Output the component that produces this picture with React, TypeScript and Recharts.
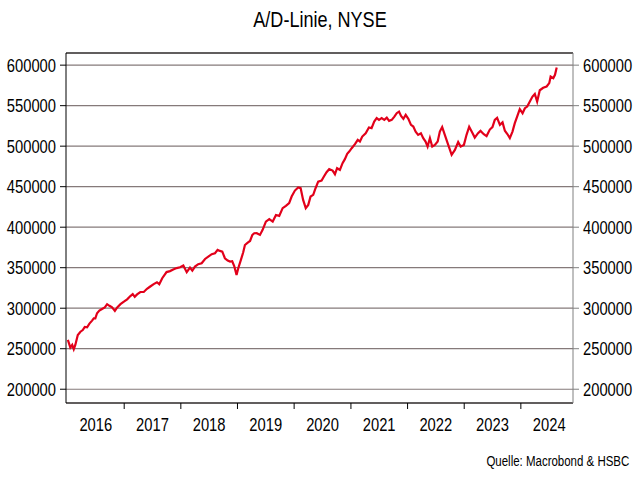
import { CartesianGrid, Line, LineChart, ReferenceLine, XAxis, YAxis } from "recharts";

// A/D line, NYSE (roughly every 2-3 weeks)
const dates = [
  "2016-01-04", "2016-01-20", "2016-02-01", "2016-02-11", "2016-02-21", "2016-03-08", "2016-03-25", "2016-04-09",
  "2016-04-22", "2016-05-07", "2016-05-22", "2016-06-08", "2016-06-19", "2016-06-29", "2016-07-10", "2016-07-25",
  "2016-08-11", "2016-08-29", "2016-09-13", "2016-09-28", "2016-10-15", "2016-11-02", "2016-11-17", "2016-12-08",
  "2016-12-30", "2017-01-20", "2017-02-10", "2017-02-25", "2017-03-10", "2017-03-25", "2017-04-15", "2017-05-07",
  "2017-05-28", "2017-06-18", "2017-07-10", "2017-07-31", "2017-08-15", "2017-09-03", "2017-10-01", "2017-10-23",
  "2017-11-13", "2017-12-05", "2017-12-27", "2018-01-17", "2018-02-08", "2018-03-01", "2018-03-16", "2018-04-02",
  "2018-04-23", "2018-05-15", "2018-06-06", "2018-06-27", "2018-07-19", "2018-08-09", "2018-08-26", "2018-09-10",
  "2018-09-25", "2018-10-12", "2018-10-30", "2018-11-14", "2018-11-28", "2018-12-11", "2018-12-26", "2019-01-06",
  "2019-01-23", "2019-02-07", "2019-02-18", "2019-03-08", "2019-03-23", "2019-04-07", "2019-04-19", "2019-05-05",
  "2019-05-26", "2019-06-12", "2019-07-03", "2019-07-25", "2019-08-16", "2019-09-06", "2019-09-27", "2019-10-19",
  "2019-11-09", "2019-11-30", "2019-12-16", "2020-01-06", "2020-01-27", "2020-02-12", "2020-02-28", "2020-03-16",
  "2020-04-01", "2020-04-16", "2020-05-03", "2020-05-18", "2020-06-04", "2020-06-26", "2020-07-11", "2020-07-28",
  "2020-08-14", "2020-09-05", "2020-09-20", "2020-10-04", "2020-10-22", "2020-11-08", "2020-11-23", "2020-12-08",
  "2020-12-21", "2021-01-06", "2021-01-27", "2021-02-14", "2021-02-28", "2021-03-15", "2021-04-06", "2021-04-27",
  "2021-05-14", "2021-05-31", "2021-06-16", "2021-07-01", "2021-07-18", "2021-08-04", "2021-08-20", "2021-09-04",
  "2021-09-21", "2021-10-08", "2021-10-23", "2021-11-07", "2021-11-20", "2021-12-05", "2021-12-20", "2022-01-06",
  "2022-01-23", "2022-02-07", "2022-02-22", "2022-03-10", "2022-03-28", "2022-04-12", "2022-04-27", "2022-05-10",
  "2022-05-25", "2022-06-09", "2022-06-26", "2022-07-14", "2022-07-28", "2022-08-12", "2022-08-29", "2022-09-20",
  "2022-10-12", "2022-11-02", "2022-11-23", "2022-12-09", "2022-12-30", "2023-01-16", "2023-02-02", "2023-02-24",
  "2023-03-10", "2023-03-31", "2023-04-16", "2023-05-07", "2023-05-25", "2023-06-15", "2023-07-02", "2023-07-17",
  "2023-08-01", "2023-08-19", "2023-09-05", "2023-09-20", "2023-10-06", "2023-10-22", "2023-11-08", "2023-11-23",
  "2023-12-08", "2023-12-25", "2024-01-12", "2024-01-27", "2024-02-11", "2024-02-28", "2024-03-16", "2024-03-31",
  "2024-04-15", "2024-05-02", "2024-05-24", "2024-06-15", "2024-07-02", "2024-07-11", "2024-07-28", "2024-08-08",
  "2024-08-19",
];

const adLine = [
  261000, 251400, 254700, 249400, 254700, 267000, 271000, 273000,
  277000, 276500, 281000, 284700, 287500, 287500, 293800, 297000,
  299000, 301000, 305000, 303000, 301000, 296700, 301000, 305000,
  308000, 311000, 315000, 317500, 314000, 317000, 320000, 320000,
  324000, 326800, 329800, 332000, 329500, 337000, 344600, 345800,
  347800, 349500, 350600, 352600, 344400, 350100, 346400, 351400,
  354300, 355500, 360800, 363700, 366700, 367900, 372000, 370700,
  369900, 361700, 358800, 357500, 358000, 352000, 341000, 349400,
  359600, 369000, 378000, 381000, 383000, 390500, 392500, 392600,
  390500, 396700, 406900, 409900, 406900, 415000, 414000, 423500,
  426300, 429600, 437800, 445200, 449000, 448100, 433700, 423500,
  427500, 437800, 439900, 448100, 456300, 457500, 462500, 467900,
  471600, 469900, 465400, 472800, 470700, 479000, 484000, 490500,
  493300, 497500, 502500, 507800, 505700, 511900, 516000, 523000,
  522200, 530400, 534600, 532500, 534600, 532500, 535300, 531200,
  532500, 536500, 540700, 542700, 537400, 533700, 538600, 533700,
  526300, 524200, 518000, 514000, 516000, 509900, 505700, 499500,
  509900, 499500, 501600, 505700, 518000, 523500, 514000, 501600,
  489300, 495400, 505000, 499500, 501600, 514000, 524000, 516000,
  510600, 516000, 518900, 514800, 512500, 520500, 523500, 532500,
  535000, 526300, 529400, 519000, 515000, 509900, 518000, 528400,
  536500, 545700, 540700, 546900, 548900, 555100, 561200, 564400,
  555100, 569000, 572000, 573600, 577800, 585900, 584000, 588000,
  597000,
];

const yTicks = [200000, 250000, 300000, 350000, 400000, 450000, 500000, 550000, 600000];
const years = [2016, 2017, 2018, 2019, 2020, 2021, 2022, 2023, 2024];

const toTime = (s: string) => new Date(s + "T00:00:00Z").getTime();
const data = dates.map((d, i) => ({ t: toTime(d), v: adLine[i] }));

// year boundaries get a tick mark, mid-years get the label
const xTicks: number[] = [];
years.forEach((y) => {
  if (y > years[0]) xTicks.push(Date.UTC(y, 0, 1));
  xTicks.push(Date.UTC(y, 6, 2));
});

const FONT = "'Liberation Sans', Arial, sans-serif";
const NARROW = 0.82; // no narrow font installed, squeeze the regular one

function NarrowText({ x, y, anchor, size, dy, children }: any) {
  return (
    <text
      transform={`translate(${x},${y}) scale(${NARROW},1)`}
      dy={dy}
      textAnchor={anchor}
      fill="#000"
      fontSize={size}
      fontFamily={FONT}
    >
      {children}
    </text>
  );
}

function YearTick(props: any) {
  const { x, y, payload } = props;
  const d = new Date(payload.value);
  if (d.getUTCMonth() === 0) {
    return <line x1={x} x2={x} y1={y - 15} y2={y - 9} stroke="#000" strokeWidth={1} />;
  }
  return (
    <NarrowText x={x} y={y} anchor="middle" size={18} dy="0.71em">
      {d.getUTCFullYear()}
    </NarrowText>
  );
}

function LeftTick(props: any) {
  const { x, y, payload } = props;
  return (
    <NarrowText x={x} y={y} anchor="end" size={18} dy="0.355em">
      {payload.value}
    </NarrowText>
  );
}

function RightTick(props: any) {
  const { x, y, payload } = props;
  return (
    <NarrowText x={x} y={y} anchor="start" size={18} dy="0.355em">
      {payload.value}
    </NarrowText>
  );
}

export default function App() {
  return (
    <div style={{ position: "absolute", left: 0, top: 0, width: 640, height: 480, background: "#fff" }}>
      <div
        style={{
          position: "absolute",
          top: 9,
          left: 0,
          width: 640,
          textAlign: "center",
          fontFamily: FONT,
          fontSize: 22,
          lineHeight: "22px",
          color: "#000",
          transform: `scaleX(${NARROW})`,
        }}
      >
        A/D-Linie, NYSE
      </div>
      <LineChart width={640} height={480} data={data} margin={{ top: 53, right: 0, bottom: 37, left: 0 }}>
        <CartesianGrid yAxisId="left" vertical={false} stroke="#857a7a" strokeWidth={1.2} />
        <XAxis
          dataKey="t"
          type="number"
          scale="time"
          domain={[Date.UTC(2015, 11, 23), Date.UTC(2024, 11, 2)]}
          ticks={xTicks}
          interval={0}
          tick={<YearTick />}
          tickLine={false}
          tickSize={6}
          tickMargin={9}
          axisLine={{ stroke: "#000" }}
          height={40}
        />
        <YAxis
          yAxisId="left"
          type="number"
          domain={[183000, 615000]}
          ticks={yTicks}
          interval={0}
          width={66}
          tick={<LeftTick />}
          tickSize={6}
          tickMargin={4}
          tickLine={{ stroke: "#000" }}
          axisLine={{ stroke: "#000" }}
        />
        <YAxis
          yAxisId="right"
          orientation="right"
          type="number"
          domain={[183000, 615000]}
          ticks={yTicks}
          interval={0}
          width={67}
          tick={<RightTick />}
          tickSize={6}
          tickMargin={4}
          tickLine={{ stroke: "#808080" }}
          axisLine={{ stroke: "#808080" }}
        />
        <ReferenceLine yAxisId="left" y={615000} stroke="#000" />
        <Line
          yAxisId="right"
          dataKey="v"
          stroke="none"
          dot={false}
          activeDot={false}
          legendType="none"
          isAnimationActive={false}
        />
        <Line
          yAxisId="left"
          dataKey="v"
          type="linear"
          stroke="#e2001a"
          strokeWidth={2.2}
          dot={false}
          isAnimationActive={false}
        />
      </LineChart>
      <div
        style={{
          position: "absolute",
          top: 454,
          right: 11,
          fontFamily: FONT,
          fontSize: 14,
          lineHeight: "14px",
          color: "#000",
          transform: `scaleX(${NARROW})`,
          transformOrigin: "right center",
        }}
      >
        Quelle: Macrobond &amp; HSBC
      </div>
    </div>
  );
}
